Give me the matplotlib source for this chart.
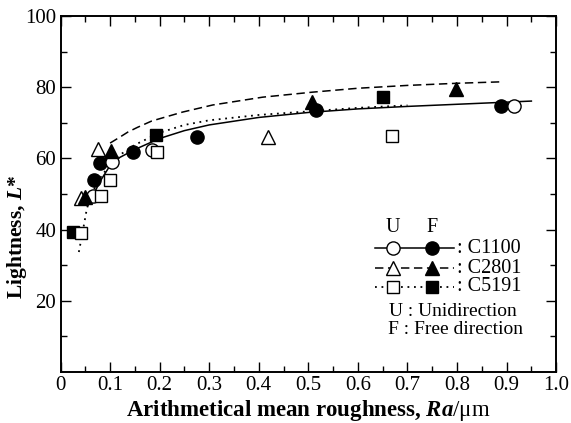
import matplotlib
matplotlib.use("Agg")
import matplotlib.pyplot as plt

plt.rcParams["font.family"] = "Liberation Serif"
plt.rcParams["mathtext.fontset"] = "custom"
plt.rcParams["mathtext.rm"] = "Liberation Serif"
plt.rcParams["mathtext.bf"] = "Liberation Serif:bold"
plt.rcParams["mathtext.bfit"] = "Liberation Serif:italic:bold"

# measured points, U = unidirection polishing, F = free direction
c1100_u_ra = [0.065, 0.104, 0.184, 0.914]
c1100_u_L = [49.4, 59.0, 62.4, 74.7]
c1100_f_ra = [0.067, 0.080, 0.146, 0.275, 0.516, 0.888]
c1100_f_L = [53.9, 58.7, 61.8, 66.0, 73.6, 74.7]

c2801_u_ra = [0.041, 0.075, 0.418]
c2801_u_L = [48.9, 62.6, 66.0]
c2801_f_ra = [0.049, 0.101, 0.508, 0.798]
c2801_f_L = [49.2, 62.1, 75.7, 79.5]

c5191_u_ra = [0.041, 0.082, 0.100, 0.194, 0.669]
c5191_u_L = [39.0, 49.4, 53.9, 61.8, 66.3]
c5191_f_ra = [0.025, 0.192, 0.651]
c5191_f_L = [39.3, 66.6, 77.2]

# fitted trend lines
fit_c1100_ra = [0.065, 0.08, 0.10, 0.12, 0.15, 0.20, 0.25, 0.30, 0.40, 0.50, 0.60, 0.70, 0.80, 0.95]
fit_c1100_L = [49.4, 53.6, 58.0, 60.3, 62.5, 65.6, 67.8, 69.4, 71.5, 72.9, 73.9, 74.6, 75.2, 76.1]
fit_c2801_ra = [0.10, 0.12, 0.136, 0.155, 0.184, 0.246, 0.307, 0.408, 0.508, 0.60, 0.70, 0.80, 0.888]
fit_c2801_L = [64.3, 66.0, 67.4, 68.7, 70.5, 73.0, 75.0, 77.2, 78.6, 79.7, 80.5, 81.1, 81.5]
fit_c5191_ra = [0.037, 0.048, 0.053, 0.06, 0.07, 0.08, 0.10, 0.12, 0.15, 0.20, 0.25, 0.30, 0.40, 0.50, 0.60, 0.70]
fit_c5191_L = [33.7, 41.9, 45.8, 49.0, 52.0, 54.5, 58.3, 61.0, 63.8, 67.2, 69.4, 70.7, 72.2, 73.2, 74.2, 74.9]

xticks = [0, 0.1, 0.2, 0.3, 0.4, 0.5, 0.6, 0.7, 0.8, 0.9, 1.0]
xticklabels = ["0", "0.1", "0.2", "0.3", "0.4", "0.5", "0.6", "0.7", "0.8", "0.9", "1.0"]
yticks = [20, 40, 60, 80, 100]

fig = plt.figure(figsize=(5.71, 4.23), dpi=100)
ax = fig.add_axes([0.106, 0.1206, 0.868, 0.8416])

dash = (5.5, 3.0)
dot = (1.0, 2.6)
ax.plot(fit_c1100_ra, fit_c1100_L, "-", color="black", lw=1.1, zorder=2)
ax.plot(fit_c2801_ra, fit_c2801_L, color="black", lw=1.1, dashes=dash, zorder=2)
ax.plot(fit_c5191_ra, fit_c5191_L, color="black", lw=1.3, dashes=dot, zorder=2)

mk = dict(ls="none", mec="black", mew=1.0, zorder=3)
ax.plot(c1100_f_ra, c1100_f_L, marker="o", ms=9.5, mfc="black", **mk)
ax.plot(c1100_u_ra, c1100_u_L, marker="o", ms=9.5, mfc="white", **mk)
ax.plot(c2801_u_ra, c2801_u_L, marker="^", ms=9.5, mfc="white", **mk)
ax.plot(c2801_f_ra, c2801_f_L, marker="^", ms=9.5, mfc="black", **mk)
ax.plot(c5191_f_ra, c5191_f_L, marker="s", ms=8.2, mfc="black", **mk)
ax.plot(c5191_u_ra, c5191_u_L, marker="s", ms=8.2, mfc="white", **mk)

ax.set_xlim(0, 1.0)
ax.set_ylim(0, 100)
ax.set_xticks(xticks)
ax.set_xticklabels(xticklabels)
ax.set_xticks([0.05 + 0.1 * i for i in range(10)], minor=True)
ax.set_yticks(yticks)
ax.set_yticks([10, 30, 50, 70, 90], minor=True)
ax.tick_params(which="both", direction="in", top=True, right=True,
               width=1.0, labelsize=15, pad=3)
ax.tick_params(which="major", length=7)
ax.tick_params(which="minor", length=4.5)
for s in ax.spines.values():
    s.set_linewidth(1.4)

ax.set_xlabel(r"Arithmetical mean roughness, $\mathbfit{Ra}\mathrm{/μm}$",
              fontsize=16.5, fontweight="bold", labelpad=2)
ax.set_ylabel(r"Lightness, $\mathbfit{L}$*", fontsize=15.5, fontweight="bold")
ax.yaxis.set_label_coords(-0.064, 0.38)

# hand-made key: U / F columns with line style per alloy
lg = ax.transAxes
def key_row(yk, style, marker, ms, name):
    ax.plot([0.634, 0.794], [yk, yk], color="black", transform=lg, clip_on=False,
            zorder=4, **style)
    ax.plot([0.670], [yk], marker=marker, ms=ms, mfc="white", mec="black", mew=1.0,
            transform=lg, zorder=5, ls="none")
    ax.plot([0.749], [yk], marker=marker, ms=ms, mfc="black", mec="black", mew=1.0,
            transform=lg, zorder=5, ls="none")
    ax.text(0.800, yk, ": " + name, transform=lg, fontsize=14.5, va="center", ha="left")

ax.text(0.670, 0.405, "U", transform=lg, fontsize=14.5, ha="center", va="center")
ax.text(0.749, 0.405, "F", transform=lg, fontsize=14.5, ha="center", va="center")
key_row(0.348, dict(ls="-", lw=1.1), "o", 9.5, "C1100")
key_row(0.292, dict(lw=1.1, dashes=dash), "^", 9.5, "C2801")
key_row(0.239, dict(lw=1.3, dashes=dot), "s", 8.2, "C5191")
ax.text(0.663, 0.171, "U : Unidirection", transform=lg, fontsize=14, va="center", ha="left")
ax.text(0.661, 0.118, "F : Free direction", transform=lg, fontsize=14, va="center", ha="left")

fig.savefig("out.png", dpi=100)
